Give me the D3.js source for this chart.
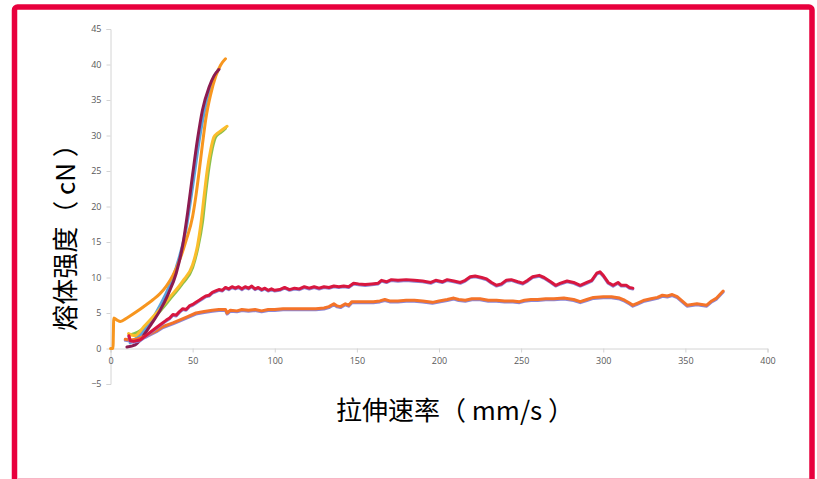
<!DOCTYPE html>
<html><head><meta charset="utf-8">
<script src="https://cdn.jsdelivr.net/npm/d3@7"></script>
<style>body{margin:0;background:#fff;}svg{display:block;}</style>
</head><body><svg id="c" width="817" height="479"></svg>
<script>
const xTicks = [0,50,100,150,200,250,300,350,400];
const yTicks = [-5,0,5,10,15,20,25,30,35,40,45];
const xTitle = "拉伸速率（ mm/s ）";
const yTitle = "熔体强度（ cN ）";

const orangeSteep = [[0,0],[1.5,0],[2,4.3],[4,4.0],[6,3.8],[10,4.3],[16,5.2],[22,6.2],[26,6.9],[30,7.7],[34,8.8],[38,10.3],[42,12.4],[46,15.2],[50,18.6],[52,21.5],[54,25],[56,28.8],[58,32.3],[61,35.8],[64,38.3],[67,39.9],[70,40.8]];
const maroon = [[10,0.2],[15,0.5],[20,1.8],[25,3.5],[30,5.3],[35,7.6],[40,10.6],[44,14.6],[47,19.2],[50,24.5],[53,29.5],[56,33.6],[60,36.8],[63,38.4],[66,39.3]];
const blue = [[12,0.8],[20,2.4],[30,6.0],[40,11.4],[46,16.8],[50,22.8],[54,29.3],[58,34.3],[62,37.6],[66,39.4]];
const yellow = [[11,2.1],[15,1.8],[20,3.0],[28,5.0],[36,7.2],[44,9.5],[50,11.8],[53,14.5],[55,17.5],[57,21.5],[59,25.3],[61,28.0],[63,29.8],[65,30.3],[68,30.8],[71,31.3]];
const green = [[12,1.9],[20,2.8],[28,4.7],[36,6.9],[44,9.2],[50,11.4],[53,14.0],[56,17.8],[58,22.0],[60,25.6],[62,28.2],[64,29.8],[67,30.4],[70,31.0]];
const red = [[11.2,1.8],[12,1.1],[14,1.0],[18,1.2],[22,1.9],[26,2.6],[30,3.3],[34,4.0],[36,4.3],[38,4.8],[40,4.7],[42,5.2],[44,5.6],[46,5.5],[48,6.0],[50,6.2],[52,6.5],[54,6.8],[56,7.1],[58,7.4],[60,7.5],[62,7.9],[64,8.1],[66,8.3],[68,8.2],[70,8.6],[72,8.4],[74,8.7],[76,8.5],[78,8.7],[80,8.4],[82,8.7],[84,8.5],[86,8.8],[88,8.4],[90,8.6],[92,8.3],[94,8.5],[96,8.2],[98,8.4],[100,8.2],[103,8.3],[106,8.6],[109,8.3],[112,8.5],[115,8.4],[118,8.7],[121,8.5],[124,8.7],[127,8.5],[130,8.7],[133,8.6],[136,8.8],[139,8.7],[142,8.8],[145,8.7],[148,9.2],[151,9.1],[155,9.0],[159,9.1],[163,9.2],[165,9.6],[168,9.4],[171,9.7],[175,9.6],[180,9.7],[185,9.6],[190,9.5],[195,9.3],[198,9.6],[202,9.4],[205,9.7],[209,9.5],[213,9.3],[216,9.6],[219,10.1],[222,10.2],[226,10.0],[229,9.8],[232,9.3],[235,8.9],[238,9.1],[241,9.6],[244,9.7],[248,9.4],[251,9.2],[254,9.6],[257,10.1],[261,10.3],[264,10.0],[268,9.4],[271,8.9],[274,9.2],[278,9.5],[282,9.3],[286,8.9],[290,9.3],[293,9.6],[296,10.6],[298,10.8],[300,10.3],[303,9.3],[306,8.9],[309,9.3],[311,8.9],[314,8.9],[316,8.6],[318,8.5]];
const orangeLong = [[9,1.3],[12,1.2],[16,1.3],[22,1.8],[28,2.5],[32,3.1],[38,3.6],[42,4.0],[47,4.5],[52,5.0],[57,5.2],[62,5.4],[66,5.5],[70,5.5],[71,5.0],[73,5.4],[77,5.3],[80,5.5],[84,5.4],[88,5.5],[92,5.3],[96,5.5],[100,5.5],[105,5.6],[110,5.6],[115,5.6],[120,5.6],[125,5.6],[130,5.7],[133,5.9],[136,6.3],[138,6.0],[140,5.9],[143,6.3],[145,6.1],[147,6.6],[150,6.6],[155,6.6],[160,6.6],[164,6.7],[167,6.9],[170,6.7],[175,6.7],[180,6.8],[185,6.8],[190,6.7],[196,6.5],[200,6.7],[205,6.9],[209,7.1],[212,6.9],[216,6.8],[220,7.0],[225,7.0],[230,6.8],[235,6.8],[240,6.7],[245,6.7],[249,6.6],[252,6.8],[256,6.9],[260,6.9],[265,7.0],[270,7.0],[276,7.1],[282,6.9],[286,6.6],[290,6.9],[294,7.2],[300,7.3],[305,7.3],[310,7.1],[313,6.8],[316,6.4],[318,6.1],[321,6.4],[325,6.8],[329,7.0],[333,7.2],[336,7.5],[339,7.4],[342,7.6],[345,7.3],[348,6.7],[351,6.1],[354,6.2],[357,6.3],[360,6.2],[363,6.1],[366,6.7],[369,7.1],[371,7.6],[373,8.1]];

const svg = d3.select("#c");
const x = d3.scaleLinear().domain([0,400]).range([110.5,767.5]);
const y = d3.scaleLinear().domain([-5,45]).range([384,29]);

// frame
svg.append("rect").attr("x",14.5).attr("y",7).attr("width",797.5).attr("height",490)
  .attr("rx",3).attr("fill","#fff").attr("stroke","#e8003d").attr("stroke-width",5.5);
svg.append("line").attr("x1",17).attr("x2",809).attr("y1",478.5).attr("y2",478.5)
  .attr("stroke","#f8b5c5").attr("stroke-width",1);

// axes
const yAxis = svg.append("g").attr("transform",`translate(${x(0)},0)`)
  .call(d3.axisLeft(y).tickValues(yTicks).tickSize(4).tickPadding(5));
const xAxis = svg.append("g").attr("transform",`translate(0,${y(0)})`)
  .call(d3.axisBottom(x).tickValues(xTicks).tickSize(4).tickPadding(5));
[yAxis,xAxis].forEach(g=>{
  g.select(".domain").attr("stroke","#d4d4d4");
  g.selectAll(".tick line").attr("stroke","#d4d4d4");
  g.selectAll(".tick text").attr("fill","#595959").attr("font-size",9)
   .attr("font-family","'Open Sans','Liberation Sans',sans-serif");
});

const lineS = d3.line().x(d=>x(d[0])).y(d=>y(d[1])).curve(d3.curveMonotoneX);
const lineL = d3.line().x(d=>x(d[0])).y(d=>y(d[1]));

function draw(data, gen, color, w, dy){
  svg.append("path").datum(data).attr("d",gen).attr("fill","none")
    .attr("stroke",color).attr("stroke-width",w)
    .attr("stroke-linejoin","round").attr("stroke-linecap","round")
    .attr("transform", dy ? `translate(0,${dy})` : null);
}
draw(green, lineS, "#8dc04a", 3);
draw(blue, lineS, "#5ba3dc", 3);
draw(yellow, lineS, "#fbbd2c", 3);
draw(orangeSteep, lineS, "#f7961f", 3);
draw(maroon, lineS, "#8c1b50", 3);
draw(orangeLong, lineL, "#8c86d6", 3, 1);
draw(orangeLong, lineL, "#f47329", 3);
draw(red, lineL, "#8c86d6", 3, 0.8);
draw(red, lineL, "#d8173f", 3);

// titles
svg.append("text").attr("x",455).attr("y",420).attr("text-anchor","middle")
  .attr("font-family","'Noto Sans CJK SC',sans-serif").attr("font-size",26).attr("fill","#000")
  .text(xTitle);
svg.append("text").attr("transform","translate(75,231) rotate(-90)").attr("text-anchor","middle")
  .attr("font-family","'Noto Sans CJK SC',sans-serif").attr("font-size",26).attr("fill","#000")
  .text(yTitle);
</script></body></html>
